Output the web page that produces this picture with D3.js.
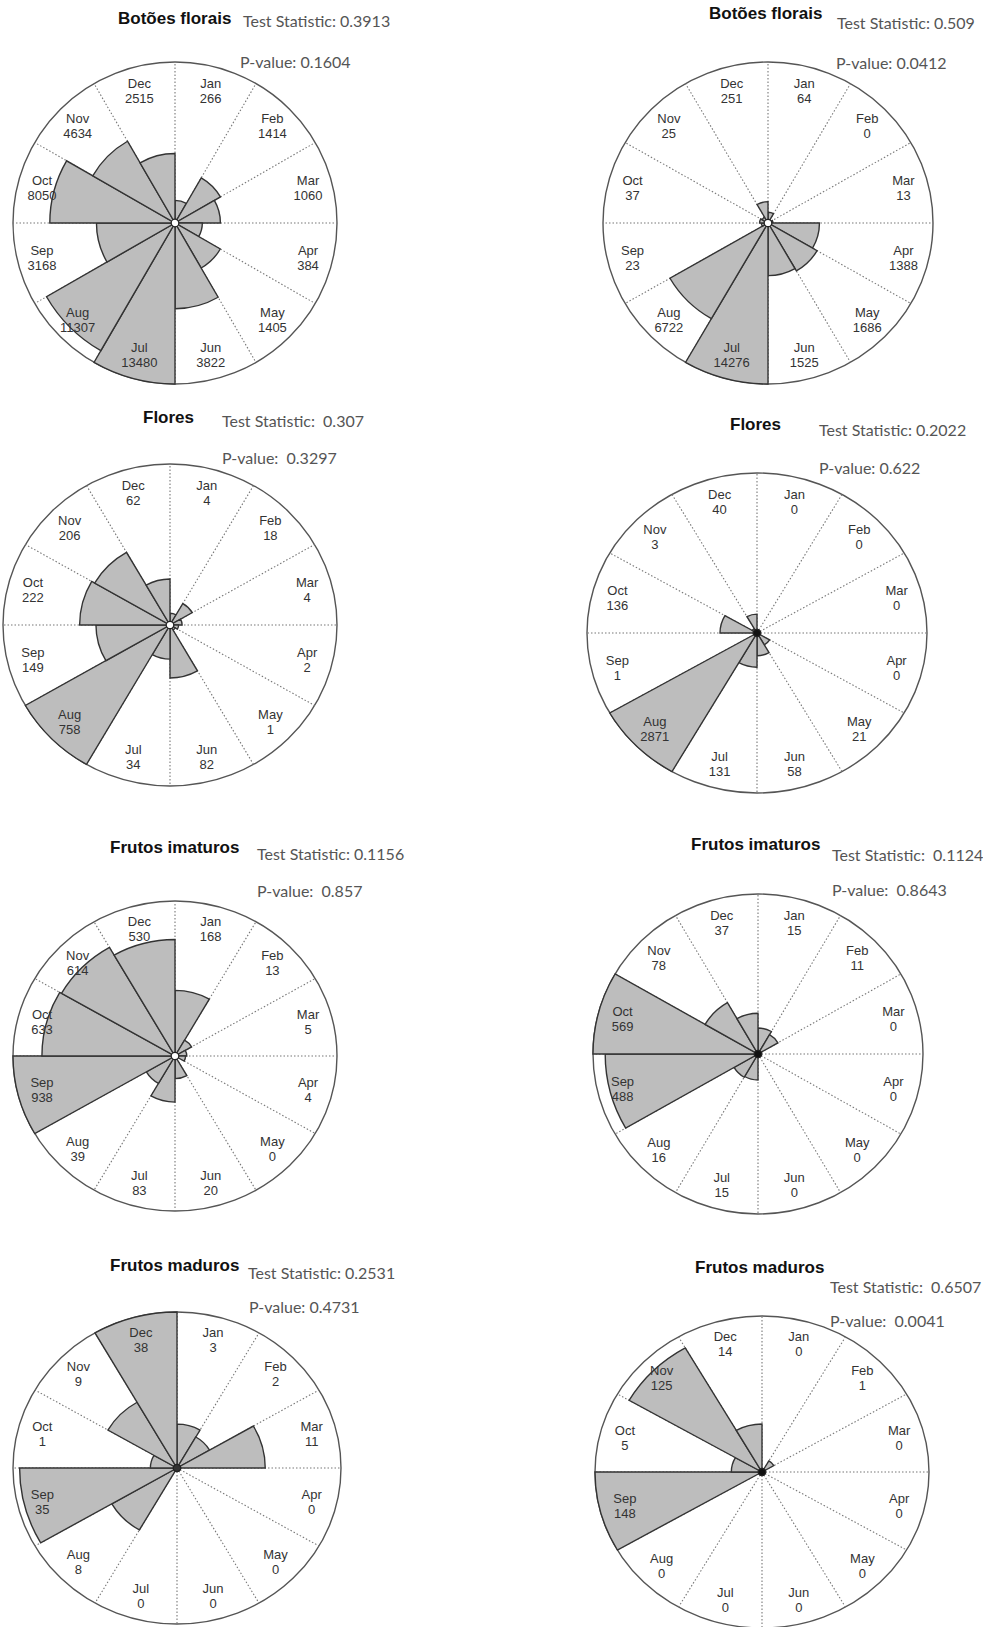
<!DOCTYPE html>
<html>
<head>
<meta charset="utf-8">
<script src="https://cdn.jsdelivr.net/npm/d3@7"></script>
<style>
  html, body { margin: 0; padding: 0; background: #fff; }
  svg { display: block; }
  .stat { white-space: pre; }
</style>
</head>
<body>
<svg id="chart" width="983" height="1627"></svg>
<script>
// Monthly counts per phenophase (two sites), clockwise from January
const months = ["Jan", "Feb", "Mar", "Apr", "May", "Jun", "Jul", "Aug", "Sep", "Oct", "Nov", "Dec"];

const botoesA   = [266, 1414, 1060, 384, 1405, 3822, 13480, 11307, 3168, 8050, 4634, 2515];
const botoesB   = [64, 0, 13, 1388, 1686, 1525, 14276, 6722, 23, 37, 25, 251];
const floresA   = [4, 18, 4, 2, 1, 82, 34, 758, 149, 222, 206, 62];
const floresB   = [0, 0, 0, 0, 21, 58, 131, 2871, 1, 136, 3, 40];
const imaturosA = [168, 13, 5, 4, 0, 20, 83, 39, 938, 633, 614, 530];
const imaturosB = [15, 11, 0, 0, 0, 0, 15, 16, 488, 569, 78, 37];
const madurosA  = [3, 2, 11, 0, 0, 0, 0, 8, 35, 1, 9, 38];
const madurosB  = [0, 1, 0, 0, 0, 0, 0, 0, 148, 5, 125, 14];

const titles = ["Botões florais", "Botões florais", "Flores", "Flores",
                "Frutos imaturos", "Frutos imaturos", "Frutos maduros", "Frutos maduros"];
const statLabels = ["Test Statistic: 0.3913", "Test Statistic: 0.509",
                    "Test Statistic:  0.307", "Test Statistic: 0.2022",
                    "Test Statistic: 0.1156", "Test Statistic:  0.1124",
                    "Test Statistic: 0.2531", "Test Statistic:  0.6507"];
const pLabels = ["P-value: 0.1604", "P-value: 0.0412",
                 "P-value:  0.3297", "P-value: 0.622",
                 "P-value:  0.857", "P-value:  0.8643",
                 "P-value: 0.4731", "P-value:  0.0041"];
const seriesList = [botoesA, botoesB, floresA, floresB, imaturosA, imaturosB, madurosA, madurosB];

// Panel geometry: circle centre/radii and text anchors
const panels = [
  { cx: 175, cy: 223, rx: 162, ry: 161, tx: 118, ty: 18,   sx: 243, sy: 20,   px: 240, py: 61,   hub: "#fff" },
  { cx: 768, cy: 223, rx: 165, ry: 161, tx: 709, ty: 13,   sx: 837, sy: 22,   px: 836, py: 62,   hub: "#fff" },
  { cx: 170, cy: 625, rx: 167, ry: 161, tx: 143, ty: 417,  sx: 222, sy: 420,  px: 222, py: 457,  hub: "#fff" },
  { cx: 757, cy: 633, rx: 170, ry: 160, tx: 730, ty: 424,  sx: 819, sy: 429,  px: 819, py: 467,  hub: "#111" },
  { cx: 175, cy: 1056, rx: 162, ry: 155, tx: 110, ty: 847, sx: 257, sy: 853,  px: 257, py: 890,  hub: "#fff" },
  { cx: 758, cy: 1054, rx: 165, ry: 160, tx: 691, ty: 844, sx: 832, sy: 854,  px: 832, py: 889,  hub: "#111" },
  { cx: 177, cy: 1468, rx: 164, ry: 156, tx: 110, ty: 1265, sx: 248, sy: 1272, px: 249, py: 1306, hub: "#333" },
  { cx: 762, cy: 1472, rx: 167, ry: 156, tx: 695, ty: 1267, sx: 830, sy: 1286, px: 830, py: 1320, hub: "#111" }
];

const svg = d3.select("#chart");

panels.forEach((p, i) => {
  const values = seriesList[i];
  const data = months.map((m, k) => ({ month: m, value: values[k], k }));

  // area-proportional rose: radius follows square root of the count
  const r = d3.scaleSqrt().domain([0, d3.max(values)]).range([0, p.rx]);
  const angle = d3.scaleLinear().domain([0, months.length]).range([0, 2 * Math.PI]);

  const g = svg.append("g").attr("transform", `translate(${p.cx},${p.cy})`);
  const geo = g.append("g").attr("transform", `scale(1,${p.ry / p.rx})`);

  geo.append("circle")
    .attr("r", p.rx)
    .attr("fill", "#fff")
    .attr("stroke", "#555")
    .attr("stroke-width", 1.4)
    .attr("vector-effect", "non-scaling-stroke");

  // dotted month dividers
  geo.selectAll("line.div")
    .data(d3.range(months.length))
    .join("line")
    .attr("class", "div")
    .attr("x1", 0).attr("y1", 0)
    .attr("x2", d => p.rx * Math.sin(angle(d)))
    .attr("y2", d => -p.rx * Math.cos(angle(d)))
    .attr("stroke", "#777")
    .attr("stroke-width", 1.1)
    .attr("stroke-dasharray", "1.5 2")
    .attr("vector-effect", "non-scaling-stroke");

  const arc = d3.arc()
    .innerRadius(0)
    .outerRadius(d => r(d.value))
    .startAngle(d => angle(d.k))
    .endAngle(d => angle(d.k + 1));

  geo.selectAll("path.wedge")
    .data(data.filter(d => d.value > 0))
    .join("path")
    .attr("class", "wedge")
    .attr("d", arc)
    .attr("fill", "#bdbdbd")
    .attr("stroke", "#333")
    .attr("stroke-width", 1.4)
    .attr("stroke-linejoin", "miter")
    .attr("vector-effect", "non-scaling-stroke");

  geo.append("circle")
    .attr("r", 3.8)
    .attr("fill", p.hub)
    .attr("stroke", "#222")
    .attr("stroke-width", 1.2)
    .attr("vector-effect", "non-scaling-stroke");

  // month name + count, placed at the middle of each sector
  const lab = g.selectAll("g.lab")
    .data(data)
    .join("g")
    .attr("class", "lab")
    .attr("transform", d => {
      const a = angle(d.k + 0.5);
      return `translate(${0.85 * p.rx * Math.sin(a)},${-0.85 * p.ry * Math.cos(a)})`;
    })
    .attr("font-family", "'Liberation Sans', Arial, sans-serif")
    .attr("font-size", 13)
    .attr("fill", "#333")
    .attr("text-anchor", "middle");
  lab.append("text").attr("y", -3).text(d => d.month);
  lab.append("text").attr("y", 12).text(d => d.value);

  svg.append("text")
    .attr("x", p.tx).attr("y", p.ty)
    .attr("dominant-baseline", "central")
    .attr("font-family", "'Liberation Sans', Arial, sans-serif")
    .attr("font-weight", "bold")
    .attr("font-size", 17)
    .attr("fill", "#111")
    .text(titles[i]);

  svg.append("text")
    .attr("class", "stat")
    .attr("x", p.sx).attr("y", p.sy)
    .attr("dominant-baseline", "central")
    .attr("font-family", "Lato, 'Open Sans', sans-serif")
    .attr("font-size", 16)
    .attr("fill", "#555")
    .text(statLabels[i]);

  svg.append("text")
    .attr("class", "stat")
    .attr("x", p.px).attr("y", p.py)
    .attr("dominant-baseline", "central")
    .attr("font-family", "Lato, 'Open Sans', sans-serif")
    .attr("font-size", 16)
    .attr("fill", "#555")
    .text(pLabels[i]);
});
</script>
</body>
</html>
